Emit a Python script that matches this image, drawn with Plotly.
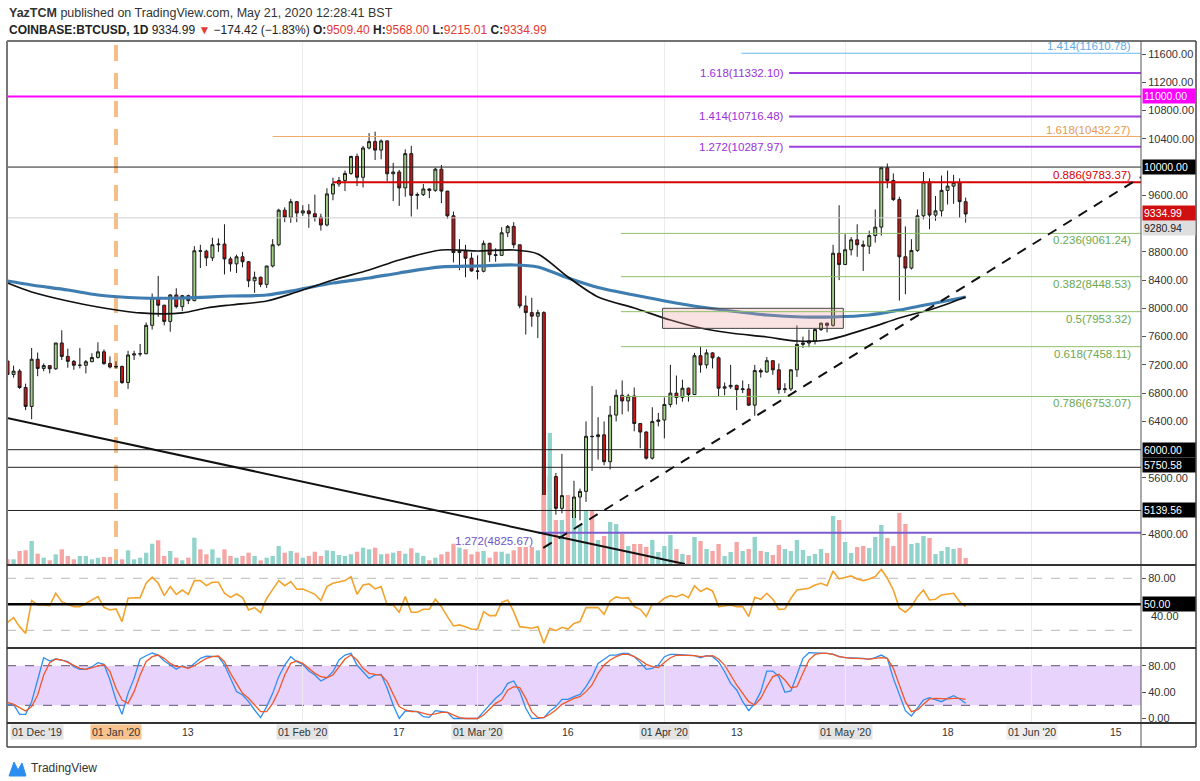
import pandas as pd
import plotly.graph_objects as go

W, H = 1200, 781
def px(x): return x / W
def py(y): return 1 - y / H

BASE = pd.Timestamp("2019-12-14")
def day(d):
    return (BASE + pd.Timedelta(days=d)).strftime("%Y-%m-%d %H:%M")

# ---------------- DATA ----------------
DATES = pd.date_range("2019-12-14", "2020-05-21", freq="D")

OPEN = [7255,7065,7112,6880,6612,7280,7150,7190,7145,7510,7320,7250,7195,7195,7245,7305,7385,7220,
        7170,7178,6950,7340,7355,7358,7760,8150,8045,7815,8190,8025,8180,8110,8815,8810,8715,8900,8910,
        8700,8630,8730,8660,8390,8440,8340,8600,8900,9390,9290,9510,
        9350,9380,9340,9290,9180,9620,9760,9810,9910,10150,9855,10270,10360,10240,10370,9905,9930,9705,
        10190,9600,9610,9690,9670,9970,9660,9310,8790,8810,8710,
        8530,8525,8920,8760,8750,9070,9160,8900,8035,7940,7890,7940,4860,5620,5170,5350,5020,5330,5410,
        6190,6185,6210,5830,6490,6770,6690,6760,6370,6250,5880,6400,
        6420,6640,6800,6740,6870,6780,7330,7200,7370,7300,6870,6890,6910,6850,6860,6630,7120,7100,7260,
        7130,6850,6860,7130,7490,7510,7540,7700,7790,7760,8780,
        8620,8830,8970,8900,8880,9030,9150,9990,9810,9540,8730,8570,8820,9310,9790,9320,9380,9670,9730,
        9780,9509.40]
HIGH = [7308,7190,7140,6934,7440,7375,7220,7190,7510,7690,7430,7270,7440,7270,7365,7520,7420,7320,
        7250,7190,7400,7400,7495,7800,8210,8460,8050,8200,8285,8190,8195,8880,8900,8830,9000,8990,9190,
        8730,8760,8800,8670,8520,8450,8600,8980,9410,9430,9550,9520,
        9460,9475,9610,9340,9700,9850,9860,9950,10160,10190,10300,10480,10500,10390,10380,10060,9960,10250,
        10300,9640,9760,9700,9990,10030,9660,9370,8980,8900,8790,
        8750,8960,8930,8850,9150,9180,9220,8900,8180,8150,7980,7960,5960,5670,5940,5350,5560,5450,6400,
        6900,6460,6400,6620,6850,6980,6790,6880,6370,6260,6600,6520,
        6740,7200,7050,6990,6880,7370,7460,7420,7380,7320,6950,7200,6920,6980,6930,7200,7150,7310,7260,
        7220,6940,7140,7760,7600,7700,7720,7800,7800,8900,9460,
        9050,9010,9190,8960,9100,9400,9990,10050,9910,9580,9160,8980,9400,9930,9840,9590,9880,9950,9890,
        9840,9568.00]
LOW = [7040,7020,6860,6560,6430,7040,7110,7080,7130,7270,7160,7130,7150,7080,7240,7290,7200,7150,
       7150,6930,6860,7270,7320,7350,7700,7880,7760,7670,8000,7960,8060,8100,8570,8600,8670,8800,8480,
       8520,8500,8580,8300,8220,8300,8290,8580,8880,9220,9210,9220,
       9310,9140,9230,9100,9160,9530,9720,9660,9890,9730,9710,10250,10100,10110,9800,9520,9450,9580,
       9300,9400,9590,9560,9650,9490,9270,8650,8540,8440,8520,
       8410,8510,8660,8660,8750,9010,8850,8000,7630,7740,7580,4580,3860,5080,5100,4440,4950,5000,5260,
       5700,5860,5780,5720,6400,6500,6540,6260,6020,5860,5860,6330,
       6160,6600,6640,6680,6680,6780,7090,7150,7150,6750,6770,6860,6560,6800,6620,6480,7020,7090,7060,
       6790,6800,6830,7030,7440,7450,7490,7680,7660,7740,8400,
       8620,8750,8730,8530,8770,8930,9030,9700,9520,8110,8200,8550,8800,9260,9120,9240,9300,9470,9480,
       9280,9215.01]
CLOSE = [7065,7112,6880,6612,7280,7150,7190,7145,7510,7320,7250,7195,7195,7245,7305,7385,7220,7170,
         7178,6950,7340,7355,7358,7760,8150,8045,7815,8190,8025,8180,8110,8815,8810,8715,8900,8910,8700,
         8630,8730,8660,8390,8440,8340,8600,8900,9390,9290,9510,9350,
         9380,9340,9290,9180,9620,9760,9810,9910,10150,9855,10270,10360,10240,10370,9905,9930,9705,10190,
         9600,9610,9690,9670,9970,9660,9310,8790,8810,8710,8530,
         8525,8920,8760,8750,9070,9160,8900,8035,7940,7890,7940,4860,5620,5170,5350,5020,5330,5410,6190,
         6185,6210,5830,6490,6770,6690,6760,6370,6250,5880,6400,6420,
         6640,6800,6740,6870,6780,7330,7200,7370,7300,6870,6890,6910,6850,6860,6630,7120,7100,7260,7130,
         6850,6860,7130,7490,7510,7540,7700,7790,7760,8780,8620,
         8830,8970,8900,8880,9030,9150,9990,9810,9540,8730,8570,8820,9310,9790,9320,9380,9670,9730,9780,
         9510,9334.99]

VOLUME = [5.7,5.7,14,14.7,24,11.3,7.3,4.7,10.7,15.7,9,5.7,9,9,5.7,7.3,8,8,4.7,5.7,14.7,5.7,7.3,12.3,
          21.3,24.7,9,14,7.3,4.7,7.3,27.3,15.7,10.7,15.7,7.3,15.7,9,7.3,9,12.3,9,4.7,7.3,9,19,12.3,14,
          12.3,7.3,9,13.3,9,14.7,14,10,9,10.7,13.3,17.3,15.7,17.3,10.7,11.3,12.3,14,11.3,16.7,12.3,9,
          4.7,7.3,10.7,13.3,21.3,17.3,15.7,10.7,13.3,14,7.3,13.3,13.3,11.3,14.7,18,18,18,14.7,
          70,132,45,45,70,47,40,55,55,25,
          29,43,41,31,19,21,21,18,25,13,19,30,16,11,10,28,24,16,14,21,9,13,23,14,16,28,14,13,10,20,
          16,14,25,15,9,11,16,12,49,45,23,12,18,19,17,28,40,27,19,52,41,21,22,29,27,11,14,18,16,17,7]

RSI = [29.2,34.6,24.2,16.5,54.2,49.2,49.2,48.5,62.7,53,50,47.3,47.3,51.2,55,58.8,46.5,43.5,44.6,30,
       56.9,56.9,57.7,74.2,81.2,74.2,60,70.4,61.5,66.5,61.5,77.3,77.3,71.5,75.4,75.4,62.7,58,61.9,57.7,
       43.5,46.2,40.4,56.9,66.5,77.3,71.5,76.2,67.3,67.7,64.6,61.5,54.2,70.4,74.2,75.4,77.3,81.9,61.5,
       72.3,73.5,67.7,70.4,49.2,49.2,40.8,58.8,40.8,40.8,44.2,44.2,55.8,47.3,35.8,25,26.2,24.2,21.2,
       21.2,41.5,36.9,36.9,52.3,55,41.5,24.2,23.1,22.3,24.2,5,22.3,19.6,23.5,21.5,28,30,46.2,46.2,46.2,
       38.5,53.8,58.5,56.9,57.7,47.3,44.2,35.8,50.4,51.2,56.9,60,58.5,61.5,57.7,71.2,64.6,68.5,65.4,
       47.3,48,49.2,47.3,47.3,35.8,58,55.8,62.7,55.8,44.2,44.6,56.9,66.5,67.3,68.5,72.3,74.2,71.5,88.5,
       79.2,81.2,82.7,79.2,77.3,79.2,81.9,90.4,80,66.5,45.4,40.8,47.3,58.8,66.5,55,55.8,60.8,61.9,62.7,
       53.1,47.3]

STOCH_K = [21.5,21.5,6.4,6.4,25.5,58.3,92.1,87.1,90.1,88.6,86.1,78.5,74.5,74.5,78.5,84.5,82,58.3,28,6.4,
           38.1,60.8,90.1,95.1,99.2,96.1,87.1,81,74.5,80,76,83.5,91.1,94.6,94.6,93.6,81,60.8,40.7,35.6,
           25.5,12.9,1.3,18,38.1,63.4,81,93.6,86.1,82,71.9,65.9,56.8,61.8,70.9,88.6,96.1,98.7,81,70.9,
           60.8,65.9,66.9,45.7,20.5,0,11.4,11.4,10.4,2.8,1.8,11.9,10.4,9.4,0,0,0,0,0,10.4,20.5,30.6,38.1,
           53.3,56.8,40.7,15.5,0,0.3,1.3,11.4,18,29.1,29.1,33.1,36.6,48.2,63.4,83.5,90.1,96.1,96.1,98.7,
           98.7,93.6,85,74.5,76,81,93.6,97.1,97.1,96.1,95.1,95.1,92.1,95.1,93.6,86.1,70.9,53.3,43.2,25.5,
           11.9,23,40.7,71.9,71.9,63.4,39.7,41.7,65.9,91.1,99.7,99.7,98.7,98.7,97.6,93.6,92.1,92.1,91.1,
           91.1,89.6,92.1,96.1,91.1,60.8,35.6,11.9,3.9,15.5,28,31.6,29.1,25.5,30.6,34.6,29.6,23]
STOCH_D = [24.5,21.5,16.5,11.4,18,35.6,65.9,84.5,90.1,88.6,85,81,76,74.5,77,80,82,70.9,45.7,28,
           23,40.7,65.9,86.1,93.6,96.1,91.1,83.5,78.5,78.5,76,80,85,91.1,93.6,94.6,86.1,68.4,53.3,38.1,
           30.6,20.5,10.4,10.4,23,41.7,65.9,83.5,87.1,83.5,76,68.4,63.4,61.8,65.9,78.5,90.1,96.1,88.6,76,
           68.4,66.9,65.9,55.8,35.6,18,12.9,10.4,10.4,7.9,5.4,6.9,9.4,9.4,5.4,1.3,0,0,0,5.4,14.4,23,28,
           43,48.2,46.7,30.6,10.4,1.3,1.3,6.4,12.9,21.5,25.5,30.6,33.1,40.7,50.8,68.4,81,88.6,93.6,97.1,
           97.1,93.6,88.6,82,78.5,77,85,92.1,96.1,96.1,96.1,95.1,93.6,94.6,95.1,90.1,81,65.9,50.8,38.1,
           25.5,20.5,30.6,48.2,63.4,66.9,58.3,46.7,48.2,68.4,88.6,97.1,98.7,98.7,97.1,93.6,92.1,91.1,91.1,
           90.1,90.1,91.1,92.1,91.1,76,50.8,25.5,10.4,12.9,21.5,29.6,30.6,29.6,29.6,30.6,30.6,29.1]

MA200_DAYS = [0,4,10,15,22,29,37,43,48,54,60,65,72,78,84,88,93,98,104,110,115,120,126,132,137,143,148,154,159]
MA200_VALS = [8387,8331,8260,8189,8147,8147,8175,8189,8260,8359,8430,8501,8586,8600,8614,8586,8430,8295,
              8189,8090,8019,7963,7906,7878,7878,7906,7977,8076,8161]
MA100_DAYS = [0,4,10,15,22,29,33,37,43,48,54,60,65,72,78,84,88,93,98,104,110,115,120,126,131,136,143,148,154,159]
MA100_VALS = [8359,8232,8104,8019,7935,7935,8005,8048,8104,8232,8402,8543,8685,8826,8812,8826,8770,8444,
              8161,8005,7835,7722,7651,7595,7538,7552,7722,7864,8005,8161]

# price ticks (ticks hidden under level badges are left out)
PRICE_TICKS = [4800, 5600, 6400, 6800, 7200, 7600, 8000, 8400, 8800, 9600,
               10400, 10800, 11200, 11600]
RSI_TICKS = [80]
STOCH_TICKS = [0, 40, 80]

FIB_RETRACE = [(0.236, 9061.24), (0.382, 8448.53), (0.5, 7953.32), (0.618, 7458.11), (0.786, 6753.07)]
FIB_EXT_PURPLE = [(1.272, 10287.97), (1.414, 10716.48), (1.618, 11332.10)]
FIB_BLUE = (1.414, 11610.78)
FIB_ORANGE = (1.618, 10432.27)
FIB_RED = (0.886, 9783.37)
FIB_LOW = (1.272, 4825.67)
LEVEL_MAGENTA = 11000
LEVELS_BLACK = [10000, 6000, 5750.58, 5139.56]
LEVEL_GREY = 9280.94
LAST_PRICE = 9334.99

# drawings: (day offset, price)
TREND_DOWN = [(-0.1, 6449), (112.4, 4382)]
TREND_UP = [(88.9, 4609), (188.1, 9859)]
BOX = [(108.7, 7717), (138.7, 8001)]

XTICKS = [("2020-01-13", "13", None), ("2020-02-01", "01 Feb '20", "#e4e4e4"), ("2020-02-17", "17", None),
          ("2020-03-01", "01 Mar '20", "#e4e4e4"), ("2020-03-16", "16", None),
          ("2020-04-01", "01 Apr '20", "#e4e4e4"), ("2020-04-13", "13", None),
          ("2020-05-01", "01 May '20", "#e4e4e4"), ("2020-05-18", "18", None),
          ("2020-06-01", "01 Jun '20", "#eeeeee"), ("2020-06-15", "15", None),
          ("2020-01-01", "01 Jan '20", "#f6c38e")]

# ---------------- FIGURE ----------------
FONT = "Liberation Sans"
XR = [day(-0.09), day(188.1)]
XDOM = [px(7), px(1141)]
MAIN_DOM = [py(565), py(41)]
RSI_DOM = [py(648), py(565)]
STO_DOM = [py(723), py(648)]

fig = go.Figure()

vol_colors = ["#92d3cc" if c >= o else "#f5a6a4" for o, c in zip(OPEN, CLOSE)]
fig.add_trace(go.Bar(x=DATES, y=VOLUME, marker=dict(color=vol_colors, line=dict(width=0)),
                     width=0.72 * 86400000, xaxis="x", yaxis="y4", hoverinfo="skip"))

fig.add_trace(go.Scatter(x=[day(d) for d in MA200_DAYS], y=MA200_VALS, mode="lines",
                         line=dict(color="#3f7db0", width=3.2, shape="spline", smoothing=0.8),
                         xaxis="x", yaxis="y", hoverinfo="skip"))
fig.add_trace(go.Scatter(x=[day(d) for d in MA100_DAYS], y=MA100_VALS, mode="lines",
                         line=dict(color="#111111", width=1.7, shape="spline", smoothing=0.8),
                         xaxis="x", yaxis="y", hoverinfo="skip"))

fig.add_trace(go.Candlestick(x=DATES, open=OPEN, high=HIGH, low=LOW, close=CLOSE,
                             increasing=dict(fillcolor="#a0cf88", line=dict(color="#1a1a1a", width=1)),
                             decreasing=dict(fillcolor="#c81414", line=dict(color="#1a1a1a", width=1)),
                             whiskerwidth=0, xaxis="x", yaxis="y", hoverinfo="skip"))

fig.add_trace(go.Scatter(x=DATES, y=RSI, mode="lines", line=dict(color="#f3a32c", width=1.6),
                         xaxis="x2", yaxis="y2", hoverinfo="skip"))
fig.add_trace(go.Scatter(x=DATES, y=STOCH_K, mode="lines", line=dict(color="#2f8ff0", width=1.3),
                         xaxis="x3", yaxis="y3", hoverinfo="skip"))
fig.add_trace(go.Scatter(x=DATES, y=STOCH_D, mode="lines", line=dict(color="#f0582a", width=1.3),
                         xaxis="x3", yaxis="y3", hoverinfo="skip"))

shapes = []
ann = []
END = day(188.1)

def hline(y, color, width=1, x0=None, dash=None, ref="y"):
    shapes.append(dict(type="line", xref="x", yref=ref, x0=x0 if x0 is not None else XR[0], x1=END,
                       y0=y, y1=y, line=dict(color=color, width=width, dash=dash), layer="above"))

# dashed orange line at Jan 1
shapes.append(dict(type="line", xref="x", yref="y domain", x0="2020-01-01", x1="2020-01-01", y0=0, y1=1,
                   line=dict(color="#f5bd88", width=4, dash="16px,12px"), layer="below"))

# stoch band
shapes.append(dict(type="rect", xref="x3 domain", yref="y3", x0=0, x1=1, y0=20, y1=80,
                   fillcolor="#e7d3fb", line=dict(width=0), layer="below"))
for v in (20, 80):
    shapes.append(dict(type="line", xref="x3 domain", yref="y3", x0=0, x1=1, y0=v, y1=v,
                       line=dict(color="#7e7090", width=1.3, dash="dash"), layer="below"))
    shapes.append(dict(type="line", xref="x2 domain", yref="y2", x0=0, x1=1, y0=v, y1=v,
                       line=dict(color="#b8b8b8", width=1, dash="dash"), layer="below"))
shapes.append(dict(type="line", xref="x2 domain", yref="y2", x0=0, x1=1, y0=50, y1=50,
                   line=dict(color="#000000", width=2.5), layer="above"))

# pink box
shapes.append(dict(type="rect", xref="x", yref="y", x0=day(BOX[0][0]), x1=day(BOX[1][0]),
                   y0=BOX[0][1], y1=BOX[1][1], fillcolor="rgba(240,150,150,0.28)",
                   line=dict(color="#444", width=1), layer="above"))

# horizontal levels
hline(LEVEL_GREY, "#cfcfcf", 1)
hline(LEVEL_MAGENTA, "#ff00ff", 2)
for v in LEVELS_BLACK:
    hline(v, "#222222", 1)
hline(FIB_BLUE[1], "#6ab7ee", 1, x0=day(121.8))
hline(FIB_ORANGE[1], "#f0aa6a", 1, x0=day(44.0))
hline(FIB_RED[1], "#d60000", 2, x0=day(54.0))
for r, v in FIB_EXT_PURPLE:
    hline(v, "#a03ee0", 2, x0=day(129.7))
for r, v in FIB_RETRACE:
    hline(v, "#8cc06a", 1, x0=day(101.8))
hline(FIB_LOW[1], "#7a5bd0", 2, x0=day(88.0))

# trend lines
shapes.append(dict(type="line", xref="x", yref="y", x0=day(TREND_DOWN[0][0]), y0=TREND_DOWN[0][1],
                   x1=day(TREND_DOWN[1][0]), y1=TREND_DOWN[1][1], line=dict(color="#111", width=2),
                   layer="above"))
shapes.append(dict(type="line", xref="x", yref="y", x0=day(TREND_UP[0][0]), y0=TREND_UP[0][1],
                   x1=day(TREND_UP[1][0]), y1=TREND_UP[1][1],
                   line=dict(color="#111", width=2, dash="10px,8px"), layer="above"))

# frame and separators
def pline(x0, y0, x1, y1, color="#333", width=1.5):
    shapes.append(dict(type="line", xref="paper", yref="paper", x0=px(x0), y0=py(y0), x1=px(x1), y1=py(y1),
                       line=dict(color=color, width=width), layer="above"))
pline(7, 41, 1196, 41, "#444", 1.5)
pline(7, 41, 7, 747, "#777", 2)
pline(1196, 41, 1196, 747, "#444", 1.5)
pline(7, 747, 1196, 747, "#444", 1.5)
pline(1141, 41, 1141, 747, "#555", 1)
for yy in (565, 648, 723):
    pline(7, yy, 1196, yy, "#333", 2)

# TradingView logo
logo = "M %f %f L %f %f L %f %f L %f %f L %f %f Z" % (px(9), py(776), px(14), py(762), px(18), py(770),
                                                    px(22), py(763), px(26), py(776))
shapes.append(dict(type="path", xref="paper", yref="paper", path=logo, fillcolor="#2a8ef0",
                   line=dict(color="#2a8ef0", width=1)))

# ---- fib / level labels ----
def lab(text, y, color, x=1133, anchor="right", shift=0, size=11.5, ref="y"):
    ann.append(dict(text=text, xref="paper", yref=ref, x=px(x), y=y, xanchor=anchor, yanchor="middle",
                    yshift=shift, showarrow=False, font=dict(family=FONT, size=size, color=color)))

lab("%s(%.2f)" % FIB_BLUE, FIB_BLUE[1], "#5aaee8", shift=7)
lab("%s(%.2f)" % FIB_ORANGE, FIB_ORANGE[1], "#e89a50", shift=7)
lab("%s(%.2f)" % FIB_RED, FIB_RED[1], "#d60000", shift=7)
for r, v in FIB_RETRACE:
    lab("%s(%.2f)" % (r, v), v, "#6aa84f", shift=-7)
for r, v in FIB_EXT_PURPLE:
    lab("%s(%.2f)" % (r, v), v, "#9b30d9", x=786)
lab("%s(%.2f)" % FIB_LOW, FIB_LOW[1], "#6f55c8", x=535, shift=-8)

# price-axis badges
def badge(text, y, bg, fg="#ffffff", ref="y", shift=0):
    ann.append(dict(text=text, xref="paper", yref=ref, x=px(1142), y=y, xanchor="left", yanchor="middle",
                    yshift=shift, showarrow=False, bgcolor=bg, borderpad=1, width=50, align="left",
                    font=dict(family=FONT, size=10.5, color=fg)))
badge("11000.00", LEVEL_MAGENTA, "#ff00ff")
badge("10000.00", 10000, "#000000")
badge("%.2f" % LEVEL_GREY, LEVEL_GREY, "#dedede", "#222222", shift=-10)
badge("%.2f" % LAST_PRICE, LAST_PRICE, "#d01010", shift=1)
badge("%.2f" % LEVELS_BLACK[1], LEVELS_BLACK[1], "#000000")
badge("%.2f" % LEVELS_BLACK[2], LEVELS_BLACK[2], "#000000", shift=2)
badge("%.2f" % LEVELS_BLACK[3], LEVELS_BLACK[3], "#000000")
badge("50.00", 50, "#000000", ref="y2")
# RSI 40 tick label, nudged below the 50 badge as in the original
ann.append(dict(text="40.00", xref="paper", yref="y2", x=px(1149), y=40, xanchor="left", yanchor="middle",
                yshift=-3, showarrow=False, font=dict(family=FONT, size=11, color="#333")))

# x tick labels
XLAB_Y = py(740)
ann.append(dict(text="01 Dec '19", xref="paper", yref="paper", x=px(10), y=XLAB_Y, xanchor="left",
                showarrow=False, bgcolor="#e4e4e4", font=dict(family=FONT, size=10.5, color="#333")))
for d, t, bg in XTICKS:
    a = dict(text=t, xref="x3", yref="paper", x=d, y=XLAB_Y, showarrow=False,
             font=dict(family=FONT, size=10.5, color="#333"))
    if bg:
        a["bgcolor"] = bg
    ann.append(a)

# header
ann.append(dict(text="<b>YazTCM</b> published on TradingView.com, May 21, 2020 12:28:41 BST",
                xref="paper", yref="paper", x=px(7), y=py(13), xanchor="left", yanchor="middle",
                showarrow=False, font=dict(family=FONT, size=12.5, color="#333")))
red = "#e53935"
hdr = ("<b>COINBASE:BTCUSD, 1D</b> 9334.99 <span style='color:%s'>▼</span> −174.42 (−1.83%%) "
       "<b>O:</b><span style='color:%s'>9509.40</span> <b>H:</b><span style='color:%s'>9568.00</span> "
       "<b>L:</b><span style='color:%s'>9215.01</span> <b>C:</b><span style='color:%s'>9334.99</span>"
       % (red, red, red, red, red))
ann.append(dict(text=hdr, xref="paper", yref="paper", x=px(7), y=py(30), xanchor="left", yanchor="middle",
                showarrow=False, font=dict(family=FONT, size=12, color="#222")))
ann.append(dict(text="TradingView", xref="paper", yref="paper", x=px(29), y=py(768), xanchor="left",
                yanchor="middle", showarrow=False, font=dict(family=FONT, size=12, color="#333")))

# month grid (Jan 1 is marked by the dashed orange line instead)
month_grid = ["2020-02-01", "2020-03-01", "2020-04-01", "2020-05-01", "2020-06-01"]
xcommon = dict(type="date", range=XR, domain=XDOM, showticklabels=False, showgrid=True,
               gridcolor="#ececec", gridwidth=1, tickvals=month_grid, zeroline=False, showline=False,
               ticks="")
ycommon = dict(side="right", showgrid=False, zeroline=False, showline=False, ticks="outside", ticklen=4,
               tickcolor="#555", tickfont=dict(family=FONT, size=11, color="#333"))

fig.update_layout(
    width=W, height=H, margin=dict(l=0, r=0, t=0, b=0),
    paper_bgcolor="white", plot_bgcolor="white", showlegend=False, boxgap=0.3,
    xaxis=dict(**xcommon, anchor="y", rangeslider=dict(visible=False)),
    xaxis2=dict(**xcommon, anchor="y2", matches="x"),
    xaxis3=dict(**xcommon, anchor="y3", matches="x"),
    yaxis=dict(**ycommon, domain=MAIN_DOM, range=[4368, 11784], anchor="x",
               tickvals=PRICE_TICKS, ticktext=["%.2f" % v for v in PRICE_TICKS]),
    yaxis4=dict(overlaying="y", range=[0, 524], visible=False, anchor="x"),
    yaxis2=dict(**ycommon, domain=RSI_DOM, range=[-0.4, 95.3], anchor="x2",
                tickvals=RSI_TICKS, ticktext=["%.2f" % v for v in RSI_TICKS]),
    yaxis3=dict(**ycommon, domain=STO_DOM, range=[-6.8, 106.8], anchor="x3",
                tickvals=STOCH_TICKS, ticktext=["%.2f" % v for v in STOCH_TICKS]),
    shapes=shapes, annotations=ann,
)

fig.write_html("out.html")
